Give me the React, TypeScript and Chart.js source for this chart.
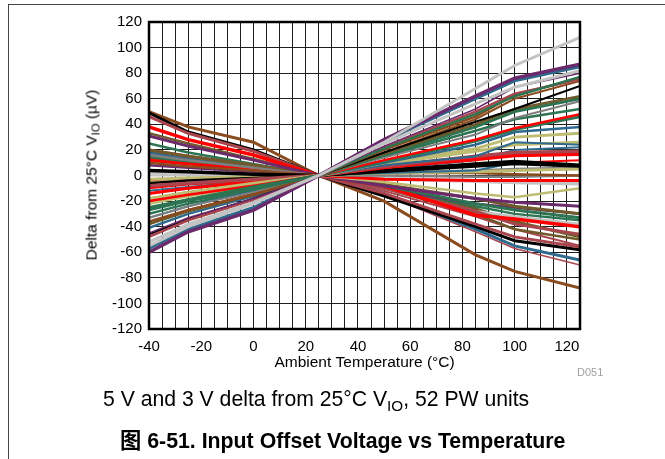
import React, { useEffect, useRef } from 'react';
import { Chart, registerables } from 'chart.js';

Chart.register(...registerables);

// Temperatures (°C) at which each unit was measured
const temps = [-40, -25, 0, 25, 50, 85, 100, 125];

// Axis ticks
const xMin = -40;
const xMax = 125;
const xGridStep = 5;
const xLabelStep = 20;
const yMin = -120;
const yMax = 120;
const yStep = 20;

// Delta from 25°C VIO (µV) for each unit
const u01 = [-55, -40, -22, 0, 26, 68, 86, 108];
const u02 = [-60, -44, -27, 0, 28, 62, 76, 87];
const u03 = [-57, -42, -25, 0, 27, 60, 74, 85];
const u04 = [-52, -38, -21, 0, 25, 56, 69, 82];
const u05 = [-45, -33, -18, 0, 23, 52, 69, 80];
const u06 = [-27, -20, -11, 0, 21, 48, 62, 77];
const u07 = [-48, -35, -19, 0, 22, 50, 64, 75];
const u08 = [-36, -27, -15, 0, 20, 46, 63, 76];
const u09 = [-46, -34, -18, 0, 18, 42, 52, 70];
const u10 = [-38, -28, -15, 0, 17, 40, 52, 62];
const u11 = [-25, -19, -9, 0, 16, 38, 50, 60];
const u12 = [-33, -24, -13, 0, 14, 32, 45, 58];
const u13 = [-20, -15, -8, 0, 12, 28, 37, 48];
const u14 = [-26, -19, -10, 0, 11, 27, 36, 46];
const u15 = [-41, -30, -16, 0, 10, 24, 34, 38];
const u16 = [-22, -16, -8, 0, 10, 21, 30, 33];
const u17 = [-33, -24, -12, 0, 8, 15, 26, 24];
const u18 = [-18, -13, -6, 0, 9, 19, 24, 26];
const u19 = [-8, -6, -3, 0, 7, 15, 18, 19];
const u20 = [-14, -10, -5, 0, 6, 13, 16, 17];
const u21 = [-10, -7, -4, 0, 6, 12, 15, 16];
const u22 = [4, 3, 1, 0, 4, 9, 11, 8];
const u23 = [-6, -4, -2, 0, 3, 7, 9, 7];
const u24 = [-12, -9, -4, 0, 2, 4, 10, 8];
const u25 = [-3, -2, -1, 0, 2, 3, 4, 5];
const u26 = [10, 7, 4, 0, 2, 2, 1, 0];
const u27 = [16, 12, 6, 0, 0, -1, -1, 0];
const u28 = [12, 9, 5, 0, -3, -4, -4, -4];
const u29 = [2, 1, 1, 0, -2, -4, -5, -6];
const u30 = [0, 0, 0, 0, -3, -5, -6, -7];
const u31 = [-5, -4, -2, 0, -5, -14, -17, -10];
const u32 = [31, 23, 12, 0, -8, -18, -21, -24];
const u33 = [20, 15, 8, 0, -7, -18, -24, -30];
const u34 = [15, 11, 6, 0, -8, -22, -27, -33];
const u35 = [38, 28, 16, 0, -8, -31, -34, -40];
const u36 = [20, 15, 8, 0, -10, -28, -38, -46];
const u37 = [33, 25, 13, 0, -10, -30, -42, -50];
const u38 = [46, 33, 19, 0, -14, -38, -48, -56];
const u39 = [49, 34, 20, 0, -16, -40, -51, -58];
const u40 = [18, 13, 7, 0, -14, -42, -55, -66];
const u41 = [15, 11, 5, 0, -15, -44, -57, -70];
const u42 = [50, 38, 26, 0, -20, -62, -75, -88];
const u43 = [16, 12, 6, 0, -10, -28, -32, -38];
const u44 = [12, 9, 5, 0, -12, -32, -42, -55];
const u45 = [8, 6, 3, 0, -10, -22, -25, -30];
const u46 = [-18, -13, -7, 0, 5, 12, 20, 22];
const u47 = [3, 2, 1, 0, 2, 4, 5, 6];
const u48 = [-38, -27, -14, 0, 18, 44, 60, 74];
const u49 = [25, 18, 9, 0, -9, -24, -30, -35];
const u50 = [14, 10, 5, 0, -9, -26, -36, -48];
const u51 = [-4, -3, -1, 0, 3, 8, 10, 12];
const u52 = [-30, -22, -12, 0, 15, 35, 44, 52];

const units = [u01, u02, u03, u04, u05, u06, u07, u08, u09, u10, u11, u12, u13,
  u14, u15, u16, u17, u18, u19, u20, u21, u22, u23, u24, u25, u26, u27, u28,
  u29, u30, u31, u32, u33, u34, u35, u36, u37, u38, u39, u40, u41, u42, u43,
  u44, u45, u46, u47, u48, u49, u50, u51, u52];

// Line colours of the units
const C = {
  black: '#000000',
  brown: '#8A4B1F',
  red: '#FF0000',
  maroon: '#A8454E',
  teal: '#2E6A8E',
  green: '#2D7452',
  gray: '#7F7F7F',
  light: '#C3C3C3',
  olive: '#BEBB72',
  purple: '#6B2A6B',
  oliveBrown: '#6F5A2B',
};
const unitColors = [
  C.light, C.purple, C.teal, C.light, C.purple, C.green, C.maroon, C.brown, C.black, C.oliveBrown,
  C.green, C.gray, C.red, C.green, C.teal, C.olive, C.teal, C.olive, C.maroon, C.red,
  C.red, C.black, C.black, C.teal, C.olive, C.brown, C.gray, C.red, C.light, C.light,
  C.olive, C.purple, C.oliveBrown, C.green, C.red, C.maroon, C.oliveBrown, C.maroon, C.black, C.teal,
  C.maroon, C.brown, C.light, C.maroon, C.purple, C.teal, C.gray, C.brown, C.green, C.oliveBrown,
  C.red, C.green,
];
const unitWidths = [
  3, 3.5, 3, 3, 1.5, 2.5, 2.5, 2.5, 2, 2.5,
  3, 2, 2.5, 3, 2.5, 3, 2, 3, 3.5, 3,
  2, 3.5, 2.5, 2, 3, 2.5, 2.5, 3, 3, 2,
  2.5, 3, 3, 3, 3.5, 3, 2.5, 3, 3, 3,
  1.5, 3, 2.5, 2, 2.5, 2, 2.5, 2, 2.5, 3,
  2, 2.5,
];

const FONT = "'Liberation Sans', Arial, Helvetica, sans-serif";

const framePlugin = {
  id: 'frame',
  afterDraw(chart: any) {
    const { ctx, chartArea: a } = chart;
    ctx.save();
    ctx.strokeStyle = '#000';
    ctx.lineWidth = 2.5;
    ctx.strokeRect(a.left, a.top, a.right - a.left, a.bottom - a.top);
    ctx.restore();
  },
};

export default function App() {
  const ref = useRef<HTMLCanvasElement>(null);

  useEffect(() => {
    if (!ref.current) return;
    const datasets = units.map((vals, i) => ({
      label: 'Unit ' + (i + 1),
      data: temps.map((t, j) => ({ x: t, y: vals[j] })),
      borderColor: unitColors[i],
      backgroundColor: unitColors[i],
      borderWidth: unitWidths[i],
      pointRadius: 0,
      tension: 0,
      fill: false,
    }));
    const chart = new Chart(ref.current, {
      type: 'line',
      data: { datasets },
      plugins: [framePlugin],
      options: {
        responsive: false,
        animation: false,
        events: [],
        layout: { padding: { left: 0, right: 85, top: 22, bottom: 87 } },
        plugins: { legend: { display: false }, tooltip: { enabled: false } },
        scales: {
          x: {
            type: 'linear',
            min: xMin,
            max: xMax,
            afterFit(scale: any) { scale.height = 43; },
            afterBuildTicks(scale: any) {
              const ticks = [];
              for (let v = xMin; v <= xMax; v += xGridStep) ticks.push({ value: v });
              scale.ticks = ticks;
            },
            ticks: {
              autoSkip: false,
              maxRotation: 0,
              padding: 9,
              color: '#000',
              font: { family: FONT, size: 15 },
              callback: (v: any) => (Number(v) % xLabelStep === 0 ? String(v) : ''),
            },
            grid: { color: '#1e1e1e', lineWidth: 1, drawTicks: false },
            border: { display: false },
            title: {
              display: true,
              text: 'Ambient Temperature (°C)',
              color: '#000',
              font: { family: FONT, size: 15.5 },
              padding: { top: 0, bottom: 0 },
            },
          },
          y: {
            type: 'linear',
            min: yMin,
            max: yMax,
            afterFit(scale: any) { scale.width = 149; },
            ticks: {
              stepSize: yStep,
              padding: 7,
              color: '#000',
              font: { family: FONT, size: 15 },
              callback: (v: any) => String(v),
            },
            grid: { color: '#1e1e1e', lineWidth: 1, drawTicks: false },
            border: { display: false },
          },
        },
      },
    } as any);
    return () => chart.destroy();
  }, []);

  return (
    <div style={{ position: 'absolute', left: 0, top: 0, width: 665, height: 459, overflow: 'hidden', background: '#fff', fontFamily: FONT }}>
      <div style={{ position: 'absolute', left: 8, top: 4, width: 700, height: 500, borderTop: '1px solid #444', borderLeft: '1px solid #444' }} />
      <canvas ref={ref} width={665} height={459} style={{ position: 'absolute', left: 0, top: 0, width: 665, height: 459 }} />
      <div style={{ position: 'absolute', left: 92, top: 175, transform: 'translate(-50%, -50%) rotate(-90deg)', whiteSpace: 'nowrap', fontSize: 15.5, fontWeight: 'normal', lineHeight: '18px', color: '#000' }}>
        Delta from 25°C V<span style={{ fontSize: '0.72em', position: 'relative', top: 3 }}>IO</span> (µV)
      </div>
      <div style={{ position: 'absolute', left: 577, top: 366, fontSize: 11, color: '#a0a0a0', lineHeight: '13px' }}>D051</div>
      <div style={{ position: 'absolute', left: 103, top: 387, fontSize: 21.2, lineHeight: '23px', color: '#000', whiteSpace: 'nowrap' }}>
        5 V and 3 V delta from 25°C V<span style={{ fontSize: '0.72em', position: 'relative', top: 5 }}>IO</span>, 52 PW units
      </div>
      <div style={{ position: 'absolute', left: 120, top: 429, fontSize: 21.3, lineHeight: '24px', fontWeight: 'bold', color: '#000', whiteSpace: 'nowrap', fontFamily: "'Liberation Sans', Arial, 'Noto Sans CJK SC', sans-serif" }}>
        图 6-51. Input Offset Voltage vs Temperature
      </div>
    </div>
  );
}
